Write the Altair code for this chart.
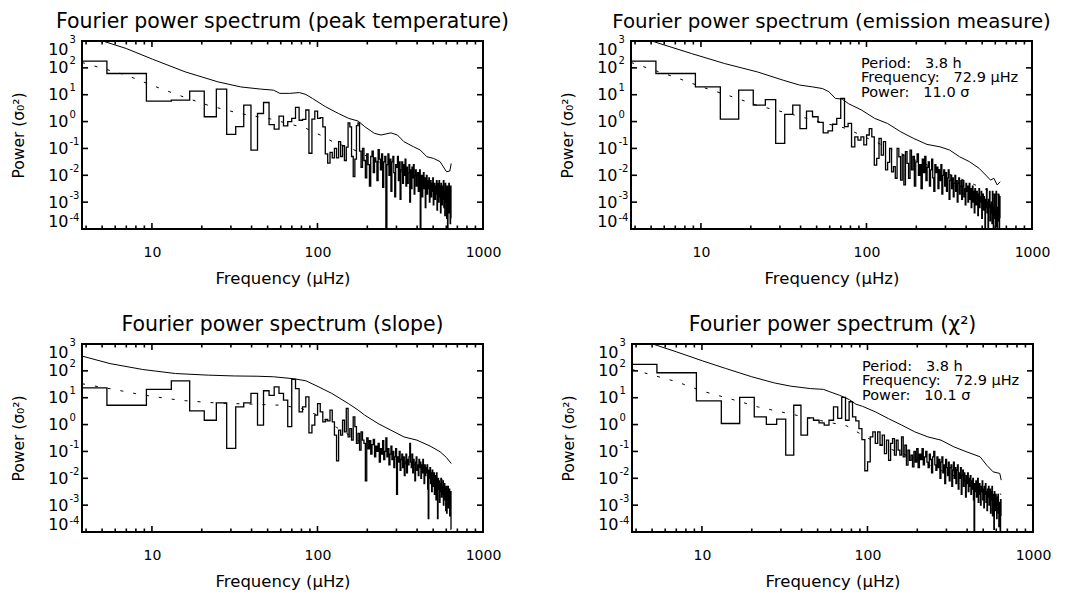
import altair as alt
import pandas as pd

FONT = "DejaVu Sans"

# Fourier frequency grid (µHz), shared by all four spectra
freq_uhz = [
    3.78, 7.56, 11.34, 15.12, 18.90, 22.68, 26.46, 30.24, 34.02, 37.80,
    41.58, 45.36, 49.14, 52.92, 56.70, 60.48, 64.26, 68.04, 71.82, 75.60,
    79.38, 83.16, 86.94, 90.72, 94.50, 98.28, 102.06, 105.84, 109.62, 113.40,
    117.18, 120.96, 124.74, 128.52, 132.30, 136.08, 139.86, 143.64, 147.42, 151.20,
    154.98, 158.76, 162.54, 166.32, 170.10, 173.88, 177.66, 181.44, 185.22, 189.00,
    192.78, 196.56, 200.34, 204.12, 207.90, 211.68, 215.46, 219.24, 223.02, 226.80,
    230.58, 234.36, 238.14, 241.92, 245.70, 249.48, 253.26, 257.04, 260.82, 264.60,
    268.38, 272.16, 275.94, 279.72, 283.50, 287.28, 291.06, 294.84, 298.62, 302.40,
    306.18, 309.96, 313.74, 317.52, 321.30, 325.08, 328.86, 332.64, 336.42, 340.20,
    343.98, 347.76, 351.54, 355.32, 359.10, 362.88, 366.66, 370.44, 374.22, 378.00,
    381.78, 385.56, 389.34, 393.12, 396.90, 400.68, 404.46, 408.24, 412.02, 415.80,
    419.58, 423.36, 427.14, 430.92, 434.70, 438.48, 442.26, 446.04, 449.82, 453.60,
    457.38, 461.16, 464.94, 468.72, 472.50, 476.28, 480.06, 483.84, 487.62, 491.40,
    495.18, 498.96, 502.74, 506.52, 510.30, 514.08, 517.86, 521.64, 525.42, 529.20,
    532.98, 536.76, 540.54, 544.32, 548.10, 551.88, 555.66, 559.44, 563.22, 567.00,
    570.78, 574.56, 578.34, 582.12, 585.90, 589.68, 593.46, 597.24, 601.02, 604.80,
    608.58, 612.36, 616.14, 619.92, 623.70, 627.48, 631.26, 635.04, 638.82, 642.60,
]

# log10 of the spectral power
peak_temp_log10 = [
    2.25, 1.79, 0.76, 0.80, 1.13, 0.18, 1.21, -0.48, -0.19, 0.61,
    -1.06, 0.30, 0.71, -0.11, -0.28, 0.20, -0.16, 0.00, 0.12, 0.53,
    0.05, 0.08, 0.43, -1.18, 0.09, 0.39, 0.12, 0.15, -0.20, -1.20,
    -1.55, -1.15, -1.35, -1.00, -1.35, -0.75, -1.30, -0.90, -1.45, -0.95,
    -0.05, -0.20, -1.30, -2.05, -1.40, -0.15, -0.05, -1.10, -1.70, -1.00,
    -1.45, -2.10, -1.20, -1.60, -2.40, -1.30, -1.10, -1.90, -1.35, -1.50,
    -2.20, -1.05, -1.40, -1.80, -1.20, -2.45, -1.50, -1.30, -4.50, -1.60,
    -1.20, -2.00, -1.40, -2.60, -1.50, -1.30, -1.90, -2.80, -1.60, -1.70,
    -1.30, -2.20, -1.50, -2.90, -1.80, -1.50, -2.30, -1.60, -2.00, -1.40,
    -2.40, -1.70, -2.30, -1.90, -1.60, -3.00, -1.80, -2.50, -1.70, -2.10,
    -1.60, -2.70, -2.00, -1.80, -2.40, -2.00, -1.90, -2.60, -2.10, -1.80,
    -4.60, -2.20, -2.00, -2.80, -2.30, -1.90, -2.50, -2.10, -3.20, -2.30,
    -2.00, -2.70, -2.20, -2.50, -2.10, -3.00, -2.40, -2.20, -2.80, -2.30,
    -2.60, -2.10, -3.10, -2.50, -2.30, -2.90, -2.40, -2.70, -2.20, -3.30,
    -2.30, -2.50, -3.00, -2.20, -2.80, -2.40, -3.40, -2.30, -2.60, -3.10,
    -2.40, -2.90, -2.20, -3.20, -2.60, -3.50, -2.30, -3.00, -2.50, -3.60,
    -2.40, -4.60, -2.60, -3.30, -2.30, -3.40, -2.70, -3.80, -2.40, -3.60,
]
emission_log10 = [
    2.25, 1.79, 1.29, 0.09, 1.17, 0.61, 0.82, -0.81, 0.27, 0.61,
    -0.26, 0.39, 0.18, -0.03, -0.42, -0.35, -0.10, 0.12, 0.86, -0.19,
    -0.07, -0.94, -0.57, -0.69, -0.57, -0.87, -0.50, -0.26, -0.57, -1.62,
    -1.37, -0.63, -1.25, -0.75, -1.80, -1.52, -1.00, -1.87, -1.68, -2.11,
    -1.00, -1.31, -2.18, -1.25, -2.36, -1.12, -1.56, -2.11, -1.06, -1.80,
    -1.30, -2.40, -1.50, -1.20, -2.00, -1.60, -2.50, -1.40, -1.90, -1.30,
    -2.20, -1.70, -1.50, -2.40, -1.80, -1.40, -2.10, -2.60, -1.60, -1.90,
    -1.70, -2.50, -1.80, -2.20, -1.60, -2.70, -2.00, -1.80, -2.40, -1.90,
    -2.60, -2.10, -1.80, -2.90, -2.20, -2.00, -2.50, -2.10, -2.80, -2.30,
    -2.00, -2.60, -2.20, -3.00, -2.30, -2.10, -2.70, -2.40, -2.20, -2.90,
    -2.40, -2.20, -2.80, -2.50, -3.10, -2.30, -2.60, -2.40, -3.00, -2.50,
    -2.30, -2.90, -2.50, -3.20, -2.60, -2.40, -3.00, -2.60, -3.40, -2.50,
    -2.70, -3.10, -2.60, -2.90, -3.50, -2.70, -2.50, -3.20, -2.80, -3.00,
    -2.60, -3.60, -2.90, -2.70, -3.30, -2.80, -3.10, -4.50, -2.90, -3.20,
    -2.50, -3.40, -3.00, -4.50, -2.90, -3.20, -2.60, -3.70, -3.10, -3.40,
    -3.00, -3.80, -2.60, -3.50, -4.60, -3.20, -2.70, -3.60, -3.30, -3.90,
    -2.60, -3.50, -4.60, -3.20, -3.40, -2.70, -3.70, -4.50, -2.80, -3.60,
]
slope_log10 = [
    1.37, 0.72, 1.31, 1.63, 0.51, 0.16, 0.81, -0.89, 0.66, 0.81,
    1.16, -0.02, 1.26, 1.09, 1.40, 1.16, 0.91, -0.08, 1.68, 1.34,
    0.47, 0.66, 1.03, -0.31, -0.02, 0.35, 0.78, 0.47, 0.10, 0.19,
    0.14, 0.54, 0.10, -0.39, -1.35, -0.21, -0.39, 0.16, -0.27, 0.60,
    -0.46, -0.15, -0.58, 0.29, -0.08, -0.70, -0.33, -0.95, -0.27, -0.58,
    -0.70, -2.10, -0.50, -0.90, -0.60, -1.10, -0.75, -0.55, -1.20, -0.80,
    -1.00, -0.70, -1.40, -0.90, -1.10, -0.60, -1.30, -1.00, -0.50, -1.20,
    -0.90, -1.50, -1.10, -0.80, -1.30, -1.00, -1.60, -1.20, -0.90, -2.60,
    -1.20, -1.40, -1.00, -1.70, -1.30, -1.10, -1.60, -1.20, -1.90, -1.40,
    -1.10, -1.80, -1.30, -1.50, -1.20, -0.70, -1.40, -1.60, -1.10, -1.80,
    -1.30, -1.50, -2.10, -1.40, -1.20, -1.70, -1.50, -1.90, -1.30, -1.60,
    -1.40, -2.00, -1.50, -1.80, -1.30, -1.70, -2.20, -1.50, -1.90, -1.60,
    -1.80, -1.50, -2.40, -3.50, -1.70, -2.00, -1.60, -2.20, -1.80, -2.50,
    -1.70, -2.00, -2.30, -1.80, -2.60, -1.90, -2.10, -2.80, -1.80, -2.30,
    -3.50, -2.00, -2.40, -2.10, -2.90, -2.20, -2.50, -2.00, -2.70, -2.30,
    -2.60, -2.10, -3.00, -2.40, -2.20, -2.80, -2.40, -3.20, -2.30, -3.30,
    -2.50, -2.80, -2.30, -3.10, -2.60, -2.40, -3.40, -2.70, -2.50, -3.90,
]
chi2_log10 = [
    2.24, 1.93, 0.88, 0.04, 1.01, 0.29, 0.01, 0.20, -1.14, 0.72,
    -0.39, 0.25, 0.16, 0.06, -0.02, 0.16, 0.66, 0.23, 1.01, 0.16,
    0.85, 0.29, 0.14, -0.15, -0.56, -1.72, -1.39, -0.46, -0.27, -0.70,
    -0.27, -0.77, -0.39, -1.08, -0.58, -1.33, -0.70, -0.52, -1.14, -0.58,
    -0.95, -1.14, -0.46, -1.20, -0.77, -1.51, -0.95, -1.33, -1.14, -1.57,
    -1.00, -1.40, -0.90, -1.60, -1.10, -1.30, -0.90, -1.50, -1.20, -1.00,
    -1.40, -1.60, -1.10, -1.30, -1.80, -1.20, -1.00, -1.50, -1.70, -1.20,
    -1.60, -1.30, -2.00, -1.40, -1.20, -1.80, -1.50, -2.20, -1.30, -1.60,
    -1.90, -1.40, -2.10, -1.60, -1.50, -2.30, -1.70, -1.40, -2.00, -1.60,
    -2.20, -1.70, -1.50, -2.40, -1.80, -2.00, -1.60, -2.60, -1.90, -1.70,
    -2.30, -1.80, -2.10, -2.70, -1.90, -2.20, -1.80, -2.50, -2.00, -2.30,
    -1.90, -2.60, -2.10, -2.40, -2.00, -2.80, -4.50, -2.20, -2.50, -2.10,
    -2.70, -2.30, -2.00, -2.90, -2.40, -2.20, -2.60, -3.00, -2.30, -2.50,
    -2.10, -2.80, -2.40, -3.10, -2.30, -2.60, -2.20, -2.90, -2.50, -3.20,
    -2.40, -2.70, -2.30, -3.00, -2.60, -2.40, -3.30, -2.50, -2.80, -2.30,
    -3.40, -2.60, -2.90, -3.90, -2.50, -2.80, -3.20, -2.60, -3.00, -3.50,
    -2.70, -3.00, -2.60, -3.30, -3.80, -2.90, -3.10, -4.60, -2.80, -3.40,
]

# dashed background fits (frequency, log10 power)
pt_fit_f = [3.78, 7, 10, 15, 22, 34, 52, 85, 107, 128, 154, 200, 300, 450, 642.6]
pt_fit_log10 = [2.2, 1.73, 1.35, 0.95, 0.6, 0.3, 0.1, -0.25, -0.54, -0.8, -0.95, -1.3, -1.8, -2.2, -2.6]
em_fit_f = [3.78, 7, 10, 15, 22, 34, 55, 75, 100, 150, 200, 300, 450, 642.6]
em_fit_log10 = [2.2, 1.65, 1.3, 0.95, 0.6, 0.3, -0.05, -0.25, -0.6, -1.1, -1.45, -1.9, -2.35, -2.75]
sl_fit_f = [3.78, 6, 8, 10, 15, 25, 40, 60, 80, 100, 130, 200, 300, 450, 642.6]
sl_fit_log10 = [1.52, 1.3, 1.15, 1.05, 0.9, 0.8, 0.76, 0.72, 0.6, 0.35, -0.1, -0.8, -1.3, -1.8, -2.2]
ch_fit_f = [3.78, 7, 10, 15, 22, 34, 52, 75, 100, 130, 200, 300, 450, 642.6]
ch_fit_log10 = [2.05, 1.6, 1.25, 0.95, 0.65, 0.4, 0.15, -0.05, -0.5, -0.85, -1.3, -1.8, -2.2, -2.6]

# solid significance (confidence) curves (frequency, log10 power)
pt_conf_f = [5.1, 7.0, 10.1, 15.9, 25.0, 34.4, 45.2, 54.2, 59.3, 67.9, 77.7, 85.1, 93.3, 112, 134,
             154, 176, 193, 221, 242, 278, 304, 333, 381, 418, 458, 502, 550, 602, 630, 642.6]
pt_conf_log10 = [2.99, 2.72, 2.32, 1.85, 1.48, 1.29, 1.21, 1.17, 1.05, 1.05, 1.08, 1.01, 0.86, 0.55, 0.30,
                 0.12, 0.02, -0.19, -0.44, -0.50, -0.42, -0.50, -0.75, -0.94, -1.06, -1.31, -1.37, -1.49, -1.87, -1.84, -1.56]
em_conf_f = [5.1, 8.8, 13.9, 21.9, 31.4, 39.4, 47.3, 54.2, 59.3, 65.0, 71.2, 77.7, 93.3, 112, 134,
             161, 193, 232, 278, 318, 365, 418, 479, 525, 562, 588, 616, 642.6]
em_conf_log10 = [2.99, 2.53, 2.16, 1.85, 1.54, 1.36, 1.29, 1.23, 1.11, 0.86, 0.84, 0.67, 0.43, 0.12, -0.07,
                 -0.38, -0.63, -0.85, -0.94, -1.06, -1.31, -1.49, -1.74, -1.99, -2.18, -2.11, -2.36, -2.24]
sl_conf_f = [3.78, 5.59, 8.8, 13.9, 21.9, 31.4, 43.2, 54.2, 71.2, 85.1, 102, 122, 154, 176, 193,
             232, 278, 333, 399, 479, 550, 602, 642.6]
sl_conf_log10 = [2.55, 2.27, 2.05, 1.90, 1.84, 1.81, 1.80, 1.78, 1.71, 1.63, 1.40, 1.16, 0.78, 0.54, 0.35,
                 0.04, -0.21, -0.46, -0.58, -0.80, -1.01, -1.23, -1.45]
ch_conf_f = [5.1, 7.0, 10.1, 13.9, 20.0, 27.4, 34.4, 45.2, 54.2, 59.3, 67.9, 77.7, 85.1, 93.3, 112,
             134, 161, 193, 232, 278, 333, 399, 479, 525, 574, 630, 642.6]
ch_conf_log10 = [2.99, 2.71, 2.37, 2.09, 1.78, 1.55, 1.43, 1.34, 1.31, 1.22, 1.09, 0.93, 0.76, 0.68, 0.47,
                 0.22, -0.02, -0.27, -0.46, -0.58, -0.83, -1.02, -1.20, -1.51, -1.76, -1.82, -2.07]

panel_titles = [
    "Fourier power spectrum (peak temperature)",
    "Fourier power spectrum (emission measure)",
    "Fourier power spectrum (slope)",
    "Fourier power spectrum (\u03c7\u00b2)",
]

# annotation block (anchored in data coordinates)
annot_freq = 92.7
annot_power = [139, 40.8, 11.9]
NB = "\u00a0"
em_annot = ["Period:" + NB * 3 + "3.8 h", "Frequency:" + NB * 3 + "72.9 \u00b5Hz", "Power:" + NB * 3 + "11.0 \u03c3"]
ch_annot = ["Period:" + NB * 3 + "3.8 h", "Frequency:" + NB * 3 + "72.9 \u00b5Hz", "Power:" + NB * 3 + "10.1 \u03c3"]

X_DOMAIN = [3.78, 1000]
Y_DOMAIN = [1e-4, 1e3]
x_major = [10, 100, 1000]
x_major_inner = [10, 100]
x_minor = [4, 5, 6, 7, 8, 9, 20, 30, 40, 50, 60, 70, 80, 90, 200, 300, 400, 500, 600, 700, 800, 900]
y_major = [1e-4, 1e-3, 1e-2, 1e-1, 1, 10, 100, 1000]
y_major_inner = [1e-3, 1e-2, 1e-1, 1, 10, 100]

W, H = 401, 188
MAJ, MIN = 6, 3.5  # inward tick lengths (px)
xscale = alt.Scale(type="log", domain=X_DOMAIN, nice=False)
yscale = alt.Scale(type="log", domain=Y_DOMAIN, nice=False)

EXP_EXPR = ("datum.value > 500 ? '3' : datum.value > 50 ? '2' : datum.value > 5 ? '1' : "
            "datum.value > 0.5 ? '0' : datum.value > 0.05 ? '-1' : datum.value > 0.005 ? '-2' : "
            "datum.value > 0.0005 ? '-3' : '-4'")

xmaj_df = pd.DataFrame({"f": x_major_inner})
xmin_df = pd.DataFrame({"f": x_minor})
ymaj_df = pd.DataFrame({"p": y_major_inner})


def xticks(df, length):
    base = alt.Chart(df).mark_rule(color="black", strokeWidth=1.6)
    enc_x = alt.X("f:Q", scale=xscale, axis=None)
    top = base.encode(x=enc_x, y=alt.value(0), y2=alt.value(length))
    bottom = base.encode(x=enc_x, y=alt.value(H), y2=alt.value(H - length))
    return [top, bottom]


def yticks(df, length):
    base = alt.Chart(df).mark_rule(color="black", strokeWidth=1.6)
    enc_y = alt.Y("p:Q", scale=yscale, axis=None)
    left = base.encode(y=enc_y, x=alt.value(0), x2=alt.value(length))
    right = base.encode(y=enc_y, x=alt.value(W), x2=alt.value(W - length))
    return [left, right]


def panel(title, title_size, step_log, fit_f, fit_log, conf_f, conf_log, annot=None):
    step_df = pd.DataFrame({"f": freq_uhz, "p": [10 ** v for v in step_log]})
    fit_df = pd.DataFrame({"f": fit_f, "p": [10 ** v for v in fit_log]})
    conf_df = pd.DataFrame({"f": conf_f, "p": [10 ** v for v in conf_log]})

    step = alt.Chart(step_df).mark_line(interpolate="step", clip=True, color="black", strokeWidth=1.3).encode(
        x=alt.X("f:Q", scale=xscale, title="Frequency (\u00b5Hz)",
                axis=alt.Axis(orient="bottom", values=x_major, labelExpr="'' + datum.value",
                              ticks=False, domain=False, grid=False, labelFontSize=14, labelPadding=16,
                              labelFlush=False, labelOverlap=False, labelColor="black",
                              titleFontSize=16.5, titlePadding=11, titleFontWeight="normal", titleColor="black")),
        y=alt.Y("p:Q", scale=yscale, title="Power (\u03c3\u2080\u00b2)",
                axis=alt.Axis(orient="left", values=y_major, labelExpr="'10'", ticks=False, tickSize=0,
                              domain=False, grid=False, labelFontSize=16, labelPadding=14,
                              labelFlush=True, labelOverlap=False, labelColor="black",
                              titleFontSize=15.5, titlePadding=21, titleFontWeight="normal", titleColor="black")),
    )
    fit = alt.Chart(fit_df).mark_line(clip=True, color="black", strokeWidth=1, strokeDash=[3, 10]).encode(
        x=alt.X("f:Q", scale=xscale, axis=None),
        y=alt.Y("p:Q", scale=yscale, title=None,
                axis=alt.Axis(orient="left", values=y_major, labelExpr=EXP_EXPR, ticks=False, tickSize=0,
                              domain=False, grid=False, labelFontSize=10, labelPadding=13, labelAlign="left",
                              labelOffset=-7, labelFlush=True, labelOverlap=False, labelColor="black")),
    )
    conf = alt.Chart(conf_df).mark_line(clip=True, color="black", strokeWidth=1).encode(
        x=alt.X("f:Q", scale=xscale, axis=None),
        y=alt.Y("p:Q", scale=yscale, axis=None),
    )
    layers = [step, fit, conf] + xticks(xmaj_df, MAJ) + xticks(xmin_df, MIN) + yticks(ymaj_df, MAJ)
    if annot is not None:
        ann_df = pd.DataFrame({"f": [annot_freq] * 3, "p": annot_power, "t": annot})
        txt = alt.Chart(ann_df).mark_text(align="left", baseline="middle", fontSize=14.5,
                                          font=FONT, color="black").encode(
            x=alt.X("f:Q", scale=xscale, axis=None),
            y=alt.Y("p:Q", scale=yscale, axis=None),
            text="t:N",
        )
        layers.append(txt)
    return alt.layer(*layers).resolve_axis(x="independent", y="independent").properties(
        width=W, height=H,
        title=alt.TitleParams(text=title, fontSize=title_size, fontWeight="normal", font=FONT, anchor="middle",
                              frame="group", baseline="alphabetic", offset=-14, color="black"),
    )


p1 = panel(panel_titles[0], 20.5, peak_temp_log10, pt_fit_f, pt_fit_log10, pt_conf_f, pt_conf_log10)
p2 = panel(panel_titles[1], 19.8, emission_log10, em_fit_f, em_fit_log10, em_conf_f, em_conf_log10, em_annot)
p3 = panel(panel_titles[2], 20.5, slope_log10, sl_fit_f, sl_fit_log10, sl_conf_f, sl_conf_log10)
p4 = panel(panel_titles[3], 20.5, chi2_log10, ch_fit_f, ch_fit_log10, ch_conf_f, ch_conf_log10, ch_annot)

chart = alt.vconcat(
    alt.hconcat(p1, p2, spacing=48),
    alt.hconcat(p3, p4, spacing=58),
    spacing=25,
).properties(
    padding={"left": 2, "top": 2, "right": 0, "bottom": 0}
).configure(font=FONT).configure_view(stroke="black", strokeWidth=2)

chart.save("out.html", embed_options={"renderer": "svg", "actions": False})
